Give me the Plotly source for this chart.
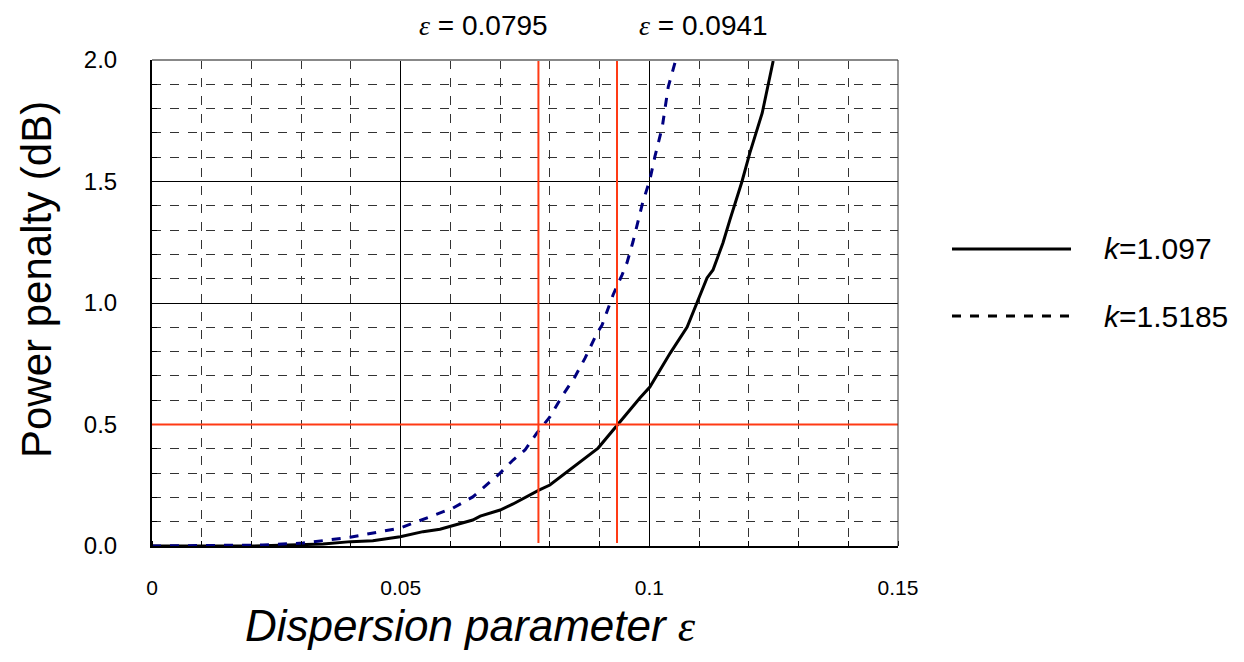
import plotly.graph_objects as go

# Data
eps_k1 = [0.0, 0.02, 0.0344, 0.040, 0.0444, 0.0499, 0.0545, 0.0579, 0.0645, 0.066, 0.070, 0.0726, 0.0778,
          0.080, 0.0897, 0.0935, 0.0981, 0.1001, 0.1042, 0.1076, 0.1096, 0.1116, 0.1128, 0.1148, 0.1162,
          0.1172, 0.1186, 0.1202, 0.1227, 0.1249]
pp_k1 = [0.0, 0.0, 0.008, 0.018, 0.022, 0.038, 0.059, 0.069, 0.107, 0.123, 0.148, 0.173, 0.230,
         0.251, 0.403, 0.498, 0.609, 0.654, 0.794, 0.901, 1.0, 1.103, 1.136, 1.247, 1.342,
         1.403, 1.498, 1.617, 1.782, 1.996]

eps_k2 = [0.0, 0.0223, 0.0304, 0.0398, 0.0499, 0.0545, 0.0605, 0.0645, 0.070, 0.0726, 0.075, 0.0774, 0.080,
          0.0826, 0.085, 0.0871, 0.0895, 0.0905, 0.0917, 0.0927, 0.0945, 0.0955, 0.0967, 0.0977, 0.0987,
          0.1001, 0.1011, 0.1026, 0.1038, 0.1052]
pp_k2 = [0.0, 0.004, 0.012, 0.036, 0.074, 0.111, 0.156, 0.202, 0.300, 0.354, 0.395, 0.465, 0.531,
         0.621, 0.695, 0.774, 0.877, 0.909, 0.979, 1.033, 1.115, 1.165, 1.251, 1.333, 1.416,
         1.506, 1.601, 1.724, 1.889, 1.992]

series_names = ["<i>k</i>=1.097", "<i>k</i>=1.5185"]
vlines_eps = [0.0777, 0.0935]
vline_labels = ["0.0795", "0.0941"]
hline_pp = 0.5

RED = "#FF3A14"
FONT = "Liberation Sans, Arial"

# page geometry (page body has an 8px margin)
W, H = 1236, 654
L, T, PW, PH = 144, 52, 746, 486


def px(xp):  # page x -> paper fraction
    return (xp - 8 - L) / PW


def py(yp):  # page y -> paper fraction
    return 1 - (yp - 8 - T) / PH


fig = go.Figure()
fig.add_trace(go.Scatter(x=eps_k1, y=pp_k1, mode="lines", line=dict(color="black", width=3),
                         name=series_names[0], showlegend=False))
fig.add_trace(go.Scatter(x=eps_k2, y=pp_k2, mode="lines", line=dict(color="#000080", width=3, dash="dash"),
                         name=series_names[1], showlegend=False))

# red reference lines
for v in vlines_eps:
    fig.add_shape(type="line", x0=v, x1=v, y0=0.012, y1=2.0, xref="x", yref="y",
                  line=dict(color=RED, width=2), layer="above")
fig.add_shape(type="line", x0=0, x1=0.15, y0=hline_pp, y1=hline_pp, xref="x", yref="y",
              line=dict(color=RED, width=2), layer="above")

# frame top/right
fig.add_shape(type="line", x0=0, x1=1, y0=1, y1=1, xref="paper", yref="paper",
              line=dict(color="#888888", width=2))
fig.add_shape(type="line", x0=1, x1=1, y0=0, y1=1, xref="paper", yref="paper",
              line=dict(color="#333333", width=1))

eps_html = "<span style=\"font-family:'Liberation Serif';font-style:italic\">ε</span>"
label_x = [483, 703]
for lx, lab in zip(label_x, vline_labels):
    fig.add_annotation(x=px(lx), y=py(26), xref="paper", yref="paper",
                       text=eps_html + " = " + lab, showarrow=False,
                       font=dict(family=FONT, size=28, color="black"),
                       xanchor="center", yanchor="middle")

# legend (manual)
leg_y = [249, 316]
styles = [dict(color="black", width=3), dict(color="black", width=3, dash="dash")]
for yy, st, nm in zip(leg_y, styles, series_names):
    fig.add_shape(type="line", x0=px(952), x1=px(1071), y0=py(yy), y1=py(yy),
                  xref="paper", yref="paper", line=st)
    fig.add_annotation(x=px(1102), y=py(yy), xref="paper", yref="paper", text=nm,
                       showarrow=False, xanchor="left", yanchor="middle",
                       font=dict(family=FONT, size=30, color="black"))

# axis titles
fig.add_annotation(x=px(470), y=py(626), xref="paper", yref="paper",
                   text="<i>Dispersion parameter</i> " + eps_html, showarrow=False,
                   xanchor="center", yanchor="middle",
                   font=dict(family=FONT, size=44, color="black"))
fig.add_annotation(x=px(36), y=py(280), xref="paper", yref="paper",
                   text="Power penalty (dB)", showarrow=False, textangle=-90,
                   xanchor="center", yanchor="middle",
                   font=dict(family=FONT, size=42, color="black"))

fig.update_xaxes(range=[0, 0.15], tickvals=[0, 0.05, 0.1, 0.15], ticktext=["0", "0.05", "0.1", "0.15"],
                 showgrid=True, gridcolor="black", gridwidth=1,
                 showline=True, linecolor="black", linewidth=2, zeroline=False,
                 ticks="", ticklabelstandoff=22,
                 tickfont=dict(family=FONT, size=21, color="black"),
                 minor=dict(dtick=0.01, tick0=0, showgrid=True, gridcolor="#333333", griddash="dash",
                            gridwidth=1, ticks="inside", ticklen=5, tickcolor="black"))
fig.update_yaxes(range=[0, 2.0], tickvals=[0, 0.5, 1.0, 1.5, 2.0], tickformat=".1f",
                 showgrid=True, gridcolor="black", gridwidth=1,
                 showline=True, linecolor="black", linewidth=2, zeroline=False,
                 ticks="", ticklabelstandoff=28,
                 tickfont=dict(family=FONT, size=24, color="black"),
                 minor=dict(dtick=0.1, tick0=0, showgrid=True, gridcolor="#333333", griddash="dash",
                            gridwidth=1, ticks="inside", ticklen=5, tickcolor="black"))

fig.update_layout(width=W, height=H,
                  margin=dict(l=L, r=W - L - PW, t=T, b=H - T - PH, autoexpand=False),
                  plot_bgcolor="white", paper_bgcolor="white", showlegend=False)

fig.write_html("out.html")
